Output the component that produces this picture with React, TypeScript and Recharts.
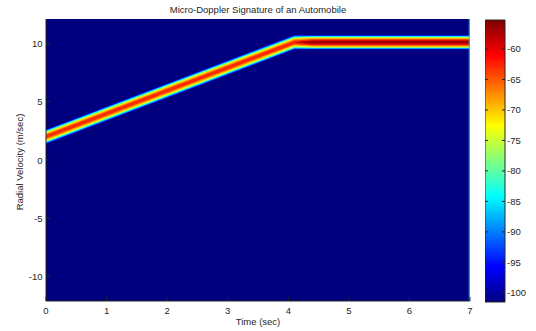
import React from 'react';
import { ComposedChart, Area, XAxis, YAxis, CartesianGrid, ReferenceLine, ReferenceArea } from 'recharts';

// ridge of the return: time breakpoints and centre velocity
const timeSec = [0, 4.1, 4.4, 7];
const ridgeVelocity = [2.0, 10.1, 10.1, 10.1];

// power contours (dB) and their half widths (m/s) at each time breakpoint
const powerLevelsDb = [-96, -90, -84, -78, -73, -68, -63, -59, -56.5];
const halfWidths = [
  [0.62, 0.56, 0.5, 0.44, 0.37, 0.28, 0.16, 0, 0],
  [0.62, 0.56, 0.5, 0.44, 0.37, 0.28, 0.16, 0, 0],
  [0.62, 0.57, 0.52, 0.47, 0.42, 0.35, 0.27, 0.18, 0.08],
  [0.62, 0.57, 0.52, 0.47, 0.42, 0.35, 0.27, 0.18, 0.08],
];
const lastFrameDb = -86;

const timeTicks = [0, 1, 2, 3, 4, 5, 6, 7];
const velocityTicks = [-10, -5, 0, 5, 10];
const powerTicks = [-100, -95, -90, -85, -80, -75, -70, -65, -60];

const VEL_DOMAIN: [number, number] = [-12.1, 12.1];
const CB_DOMAIN: [number, number] = [-101.5, -55.25];

const FONT = '"Liberation Sans", Arial, sans-serif';
const FS = 9.5;
const INK = '#262626';

const clamp = (v: number) => Math.max(0, Math.min(1, v));
const jetT = (t: number) => {
  const r = clamp(1.5 - Math.abs(4 * t - 3));
  const g = clamp(1.5 - Math.abs(4 * t - 2));
  const b = clamp(1.5 - Math.abs(4 * t - 1));
  return `rgb(${Math.round(r * 255)},${Math.round(g * 255)},${Math.round(b * 255)})`;
};
const jet = (db: number) => jetT(clamp((db - CB_DOMAIN[0]) / (CB_DOMAIN[1] - CB_DOMAIN[0])));

const rows = timeSec.map((t, i) => {
  const row: any = { t };
  powerLevelsDb.forEach((_, k) => {
    const w = halfWidths[i][k];
    row['L' + k] = [ridgeVelocity[i] - w, ridgeVelocity[i] + w];
  });
  return row;
});

const BottomTick = (p: any) => (
  <g>
    <line x1={p.x} y1={p.y} x2={p.x} y2={p.y - 4} stroke={INK} />
    <text x={p.x} y={p.y + 12.5} textAnchor="middle" fontSize={FS} fontFamily={FONT} fill={INK}>
      {p.payload.value}
    </text>
  </g>
);
const TopTick = (p: any) => <line x1={p.x} y1={p.y} x2={p.x} y2={p.y + 4} stroke={INK} />;
const LeftTick = (p: any) => (
  <g>
    <line x1={p.x} y1={p.y} x2={p.x + 4} y2={p.y} stroke={INK} />
    <text x={p.x - 3.5} y={p.y + 3.5} textAnchor="end" fontSize={FS} fontFamily={FONT} fill={INK}>
      {p.payload.value}
    </text>
  </g>
);
const RightTick = (p: any) => <line x1={p.x} y1={p.y} x2={p.x - 4} y2={p.y} stroke={INK} />;
const BarTick = (p: any) => (
  <g>
    <line x1={p.x - 20} y1={p.y} x2={p.x - 17} y2={p.y} stroke={INK} />
    <line x1={p.x - 3} y1={p.y} x2={p.x} y2={p.y} stroke={INK} />
    <text x={p.x + 2} y={p.y + 3.5} textAnchor="start" fontSize={FS} fontFamily={FONT} fill={INK}>
      {p.payload.value}
    </text>
  </g>
);

const gradStops = [0, 0.125, 0.375, 0.625, 0.875, 1];

export default function App() {
  return (
    <div style={{ position: 'absolute', left: 0, top: 0, width: 536, height: 331, background: '#fff', fontFamily: FONT, color: INK }}>
      <div style={{ position: 'absolute', left: 108, top: 4, width: 300, textAlign: 'center', fontSize: FS, lineHeight: '12px' }}>
        Micro-Doppler Signature of an Automobile
      </div>
      <div style={{ position: 'absolute', left: 158, top: 316, width: 200, textAlign: 'center', fontSize: FS, lineHeight: '12px' }}>
        Time (sec)
      </div>
      <div
        style={{
          position: 'absolute', left: -40, top: 155.5, width: 120, height: 12, textAlign: 'center',
          fontSize: FS, lineHeight: '12px', transform: 'rotate(-90deg)', transformOrigin: 'center',
        }}
      >
        Radial Velocity (m/sec)
      </div>

      <div style={{ position: 'absolute', left: 0, top: 0 }}>
        <ComposedChart width={536} height={331} data={rows} margin={{ top: 19, right: 66, bottom: 0, left: 0 }}>
          <CartesianGrid horizontal={false} vertical={false} fill="#00007f" fillOpacity={1} stroke="none" />
          <XAxis
            dataKey="t" type="number" domain={[0, 7]} ticks={timeTicks} interval={0} height={30}
            tickSize={0} tickMargin={0} tick={BottomTick} axisLine={{ stroke: INK }} allowDataOverflow
          />
          <XAxis
            xAxisId="top" orientation="top" type="number" domain={[0, 7]} ticks={timeTicks.slice(1, -1)} interval={0}
            height={0} tickSize={0} tickMargin={0} tick={TopTick} axisLine={{ stroke: INK }} allowDataOverflow
          />
          <YAxis
            type="number" domain={VEL_DOMAIN} ticks={velocityTicks} interval={0} width={46}
            tickSize={0} tickMargin={0} tick={LeftTick} axisLine={{ stroke: INK }} allowDataOverflow
          />
          <YAxis
            yAxisId="right" orientation="right" type="number" domain={VEL_DOMAIN} ticks={velocityTicks} interval={0}
            width={0} tickSize={0} tickMargin={0} tick={RightTick} axisLine={{ stroke: INK }} allowDataOverflow
          />
          {powerLevelsDb.map((db, k) => (
            <Area
              key={k}
              dataKey={'L' + k}
              type="linear"
              stroke="none"
              fill={jet(db)}
              fillOpacity={1}
              dot={false}
              activeDot={false}
              isAnimationActive={false}
            />
          ))}
          <ReferenceLine x={6.988} stroke={jet(lastFrameDb)} strokeWidth={1} />
        </ComposedChart>
      </div>

      <div style={{ position: 'absolute', left: 485, top: 0 }}>
        <ComposedChart width={51} height={331} data={[{ x: 0 }, { x: 1 }]} margin={{ top: 20, right: 0, bottom: 29, left: 0 }}>
          <defs>
            <linearGradient id="jetBar" x1="0" y1="1" x2="0" y2="0">
              {gradStops.map((s) => (
                <stop key={s} offset={s} stopColor={jetT(s)} />
              ))}
            </linearGradient>
          </defs>
          <XAxis dataKey="x" type="number" domain={[0, 1]} hide />
          <YAxis
            orientation="right" type="number" domain={CB_DOMAIN} ticks={powerTicks} interval={0} width={31}
            tickSize={0} tickMargin={0} tick={BarTick} axisLine={false} allowDataOverflow
          />
          <ReferenceArea x1={0} x2={1} y1={CB_DOMAIN[0]} y2={CB_DOMAIN[1]} fill="url(#jetBar)" fillOpacity={1} stroke={INK} />
        </ComposedChart>
      </div>
    </div>
  );
}
